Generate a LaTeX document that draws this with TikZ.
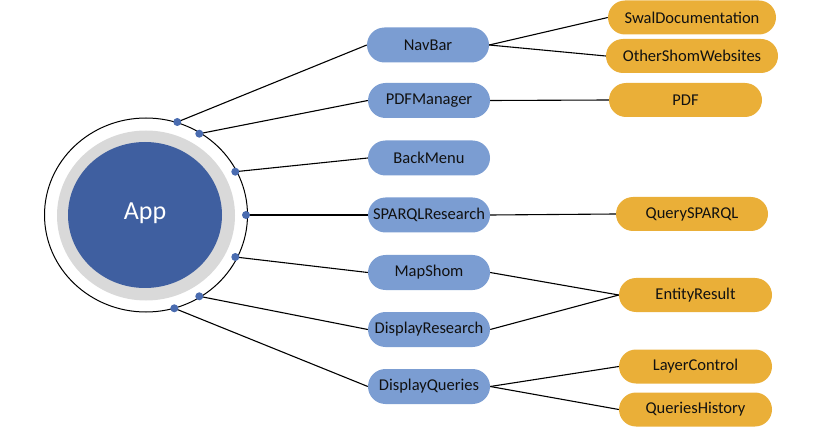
\documentclass[tikz,border=0pt]{standalone}
\usepackage{fontspec}
\setmainfont{Carlito}
\usetikzlibrary{shapes.misc,backgrounds}
\definecolor{bluenode}{HTML}{7B9DD2}
\definecolor{orangenode}{HTML}{EAAF38}
\definecolor{appblue}{HTML}{3F5FA0}
\definecolor{ringgray}{HTML}{D9D9D9}
\definecolor{dotblue}{HTML}{4A6CB0}
\definecolor{txt}{HTML}{111111}
\tikzset{
  comp/.style={rounded rectangle, fill=bluenode, minimum width=122pt, minimum height=35pt, inner sep=0pt, font=\fontsize{16.5}{16.5}\selectfont, text=txt},
  leaf/.style={rounded rectangle, fill=orangenode, minimum height=34pt, inner sep=0pt, font=\fontsize{16.5}{16.5}\selectfont, text=txt},
  link/.style={draw=black, line width=1.1pt},
  dotnode/.style={circle, fill=dotblue, inner sep=0pt, minimum size=8pt}
}
\begin{document}
\begin{tikzpicture}[x=1pt,y=-1pt]
\useasboundingbox (0,0) rectangle (815,441);
% App circles
\draw[black, line width=1pt] (146,215) ellipse [x radius=101.5, y radius=97];
\fill[ringgray] (146,215.5) ellipse [x radius=89, y radius=85];
\fill[appblue] (145,215) ellipse [x radius=77, y radius=73];
\node[text=white, font=\fontsize{26}{26}\selectfont] (app) at (145,213) {App};
% dots
\node[dotnode] (d1) at (177.3,122) {};
\node[dotnode] (d2) at (199.3,133.7) {};
\node[dotnode] (d3) at (235.3,171.7) {};
\node[dotnode] (d4) at (246,215) {};
\node[dotnode] (d5) at (235.3,257) {};
\node[dotnode] (d6) at (199.3,296.3) {};
\node[dotnode] (d7) at (174.3,308.3) {};
% components
\node[comp] (navbar) at (428,45) {NavBar};
\node[comp] (pdfm) at (429,100.5) {PDFManager};
\node[comp] (back) at (429,158) {BackMenu};
\node[comp] (sparql) at (429,215) {SPARQLResearch};
\node[comp] (map) at (429,272.5) {MapShom};
\node[comp] (dres) at (429,329.5) {DisplayResearch};
\node[comp] (dq) at (429,386.5) {DisplayQueries};
% leaves
\node[leaf, minimum width=168pt] (swal) at (692,17.5) {SwalDocumentation};
\node[leaf, minimum width=172pt] (other) at (692,56) {OtherShomWebsites};
\node[leaf, minimum width=153pt] (pdf) at (685.5,100) {PDF};
\node[leaf, minimum width=152pt] (qs) at (692,214) {QuerySPARQL};
\node[leaf, minimum width=153pt] (ent) at (695.5,295) {EntityResult};
\node[leaf, minimum width=153pt] (layer) at (695.5,366.5) {LayerControl};
\node[leaf, minimum width=153pt] (qh) at (695.5,409.5) {QueriesHistory};
% links app -> components
\begin{scope}[on background layer]
\draw[link] (d1.center) -- (navbar.west);
\draw[link] (d2.center) -- (pdfm.west);
\draw[link] (d3.center) -- (back.west);
\draw[link] (d4.center) -- (sparql.west);
\draw[link] (d5.center) -- (map.west);
\draw[link] (d6.center) -- (dres.west);
\draw[link] (d7.center) -- (dq.west);
% links components -> leaves
\draw[link] (navbar.east) -- (swal.west);
\draw[link] (navbar.east) -- (other.west);
\draw[link] (pdfm.east) -- (pdf.west);
\draw[link] (sparql.east) -- (qs.west);
\draw[link] (map.east) -- (ent.west);
\draw[link] (dres.east) -- (ent.west);
\draw[link] (dq.east) -- (layer.west);
\draw[link] (dq.east) -- (qh.west);
\end{scope}
\end{tikzpicture}
\end{document}
